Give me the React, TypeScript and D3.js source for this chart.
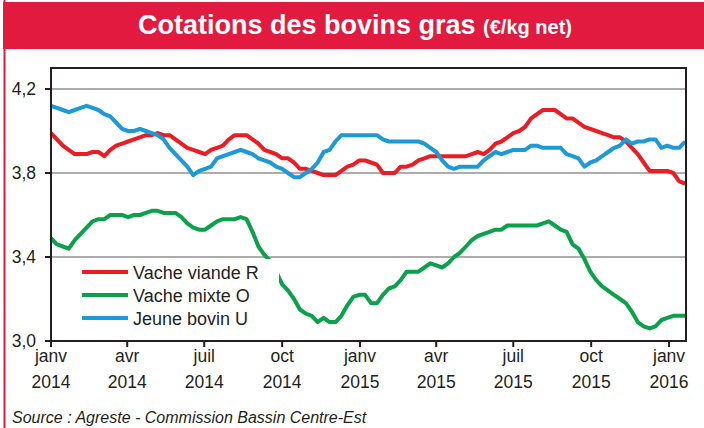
import React, { useEffect, useRef } from "react";
import * as d3 from "d3";

// weekly quotations, first week of Jan 2014 to mid Jan 2016 (€/kg net)
const startDate = new Date(2014, 0, 1);
const endDate = new Date(2016, 0, 21);

const vacheViandeR = [
  3.99, 3.96, 3.93, 3.91, 3.89, 3.89, 3.89, 3.90, 3.90, 3.88,
  3.91, 3.93, 3.94, 3.95, 3.96, 3.97, 3.98, 3.98, 3.99, 3.98,
  3.98, 3.96, 3.94, 3.92, 3.91, 3.90, 3.89, 3.91, 3.92, 3.93,
  3.96, 3.98, 3.98, 3.98, 3.96, 3.94, 3.91, 3.90, 3.89, 3.87,
  3.87, 3.85, 3.82, 3.82, 3.81, 3.80, 3.79, 3.79, 3.79, 3.81,
  3.83, 3.84, 3.86, 3.86, 3.85, 3.84, 3.80, 3.80, 3.80, 3.83,
  3.83, 3.84, 3.86, 3.87, 3.88, 3.88, 3.88, 3.88, 3.88, 3.88,
  3.88, 3.89, 3.90, 3.89, 3.91, 3.94, 3.95, 3.97, 3.99, 4.00,
  4.02, 4.06, 4.08, 4.10, 4.10, 4.10, 4.08, 4.06, 4.06, 4.04,
  4.02, 4.01, 4.00, 3.99, 3.98, 3.97, 3.97, 3.95, 3.92, 3.89,
  3.85, 3.81, 3.81, 3.81, 3.81, 3.80, 3.76, 3.75,
];

const vacheMixteO = [
  3.49, 3.46, 3.45, 3.44, 3.48, 3.51, 3.54, 3.57, 3.58, 3.58,
  3.60, 3.60, 3.60, 3.59, 3.60, 3.60, 3.61, 3.62, 3.62, 3.61,
  3.61, 3.61, 3.59, 3.56, 3.54, 3.53, 3.53, 3.55, 3.57, 3.58,
  3.58, 3.58, 3.59, 3.58, 3.52, 3.45, 3.41, 3.38, 3.33, 3.27,
  3.24, 3.20, 3.15, 3.13, 3.12, 3.09, 3.11, 3.09, 3.09, 3.12,
  3.17, 3.21, 3.22, 3.22, 3.18, 3.18, 3.22, 3.25, 3.26, 3.29,
  3.33, 3.33, 3.33, 3.35, 3.37, 3.36, 3.35, 3.37, 3.40, 3.42,
  3.45, 3.48, 3.50, 3.51, 3.52, 3.53, 3.53, 3.55, 3.55, 3.55,
  3.55, 3.55, 3.55, 3.56, 3.57, 3.55, 3.53, 3.52, 3.46, 3.44,
  3.39, 3.33, 3.29, 3.26, 3.24, 3.22, 3.20, 3.18, 3.14, 3.09,
  3.07, 3.06, 3.07, 3.10, 3.11, 3.12, 3.12, 3.12,
];

const jeuneBovinU = [
  4.12, 4.11, 4.10, 4.09, 4.10, 4.11, 4.12, 4.11, 4.10, 4.08,
  4.07, 4.04, 4.01, 4.00, 4.00, 4.01, 4.00, 3.99, 3.98, 3.96,
  3.92, 3.89, 3.86, 3.83, 3.79, 3.81, 3.82, 3.83, 3.87, 3.88,
  3.89, 3.90, 3.91, 3.90, 3.89, 3.87, 3.86, 3.85, 3.83, 3.82,
  3.80, 3.78, 3.78, 3.80, 3.82, 3.85, 3.90, 3.91, 3.95, 3.98,
  3.98, 3.98, 3.98, 3.98, 3.98, 3.98, 3.96, 3.95, 3.95, 3.95,
  3.95, 3.95, 3.95, 3.94, 3.92, 3.90, 3.86, 3.83, 3.82, 3.83,
  3.83, 3.83, 3.83, 3.86, 3.88, 3.90, 3.89, 3.90, 3.91, 3.91,
  3.91, 3.93, 3.93, 3.92, 3.92, 3.92, 3.92, 3.89, 3.88, 3.87,
  3.83, 3.85, 3.86, 3.88, 3.90, 3.92, 3.93, 3.96, 3.94, 3.95,
  3.95, 3.96, 3.96, 3.92, 3.93, 3.92, 3.92, 3.95,
];

const seriesNames = ["Vache viande R", "Vache mixte O", "Jeune bovin U"];
const seriesColors = ["#ED1C24", "#0BA14B", "#1B9AD7"];

const monthLabels = ["janv", "avr", "juil", "oct", "janv", "avr", "juil", "oct", "janv"];
const yearLabels = ["2014", "2014", "2014", "2014", "2015", "2015", "2015", "2015", "2016"];
const yTicks = [3.0, 3.4, 3.8, 4.2];

const title = "Cotations des bovins gras";
const unit = "(€/kg net)";
const source = "Source : Agreste - Commission Bassin Centre-Est";

const FONT = "'Liberation Sans', Arial, Helvetica, sans-serif";
const RED = "#E31A3F";
const INK = "#231F20";

const W = 704;
const H = 428;
const M = { left: 51, right: 686, top: 68, bottom: 341 };

const Chart = () => {
  const ref = useRef<SVGSVGElement | null>(null);

  useEffect(() => {
    if (!ref.current) return;
    const svg = d3.select(ref.current);
    svg.selectAll("*").remove();

    const x = d3.scaleTime().domain([startDate, endDate]).range([M.left, M.right]);
    const y = d3.scaleLinear().domain([3.0, 4.3]).range([M.bottom, M.top]);
    const weekDate = (i: number) => d3.timeDay.offset(startDate, i * 7);
    const tickDates = d3.timeMonth.every(3)!.range(startDate, d3.timeDay.offset(endDate, -10));

    svg.append("rect").attr("width", W).attr("height", H).attr("fill", "#fff");

    // grid
    svg
      .append("g")
      .selectAll("line")
      .data(yTicks.slice(1))
      .join("line")
      .attr("x1", M.left)
      .attr("x2", M.right)
      .attr("y1", (d) => y(d))
      .attr("y2", (d) => y(d))
      .attr("stroke", "#ADADAD")
      .attr("stroke-width", 2);

    // series
    const line = d3
      .line<number>()
      .x((_, i) => x(weekDate(i)))
      .y((d) => y(d));

    [vacheViandeR, vacheMixteO, jeuneBovinU].forEach((values, k) => {
      svg
        .append("path")
        .datum(values)
        .attr("fill", "none")
        .attr("stroke", seriesColors[k])
        .attr("stroke-width", 4)
        .attr("stroke-linejoin", "round")
        .attr("d", line);
    });

    // legend (white box hides part of the green line)
    svg
      .append("rect")
      .attr("x", M.left + 2)
      .attr("y", y(3.4) + 2)
      .attr("width", 226)
      .attr("height", 72)
      .attr("fill", "#fff");

    const legend = svg.append("g").attr("transform", `translate(82, ${y(3.4) + 15})`);
    seriesNames.forEach((name, k) => {
      const g = legend.append("g").attr("transform", `translate(0, ${k * 23})`);
      g.append("line")
        .attr("x1", 0)
        .attr("x2", 46)
        .attr("stroke", seriesColors[k])
        .attr("stroke-width", 4);
      g.append("text")
        .attr("x", 51)
        .attr("y", 6.5)
        .attr("font-family", FONT)
        .attr("font-size", 18)
        .attr("fill", INK)
        .text(name);
    });

    // frame
    svg
      .append("rect")
      .attr("x", M.left)
      .attr("y", M.top)
      .attr("width", M.right - M.left)
      .attr("height", M.bottom - M.top)
      .attr("fill", "none")
      .attr("stroke", INK)
      .attr("stroke-width", 2);

    // y axis
    const yAxis = svg.append("g");
    yAxis
      .selectAll("line")
      .data(yTicks)
      .join("line")
      .attr("x1", M.left - 6)
      .attr("x2", M.left)
      .attr("y1", (d) => y(d))
      .attr("y2", (d) => y(d))
      .attr("stroke", INK)
      .attr("stroke-width", 2);
    yAxis
      .selectAll("text")
      .data(yTicks)
      .join("text")
      .attr("x", 36)
      .attr("y", (d) => y(d) + 6)
      .attr("text-anchor", "end")
      .attr("font-family", FONT)
      .attr("font-size", 17.5)
      .attr("fill", INK)
      .text((d) => d.toFixed(1).replace(".", ","));

    // x axis
    const xAxis = svg.append("g");
    xAxis
      .selectAll("line")
      .data(tickDates)
      .join("line")
      .attr("x1", (d) => x(d))
      .attr("x2", (d) => x(d))
      .attr("y1", M.bottom)
      .attr("y2", M.bottom + 6)
      .attr("stroke", INK)
      .attr("stroke-width", 2);
    xAxis
      .selectAll("text.m")
      .data(tickDates)
      .join("text")
      .attr("class", "m")
      .attr("x", (d) => x(d))
      .attr("y", 362)
      .attr("text-anchor", "middle")
      .attr("font-family", FONT)
      .attr("font-size", 17.5)
      .attr("fill", INK)
      .text((_, i) => monthLabels[i]);
    xAxis
      .selectAll("text.y")
      .data(tickDates)
      .join("text")
      .attr("class", "y")
      .attr("x", (d) => x(d))
      .attr("y", 388)
      .attr("text-anchor", "middle")
      .attr("font-family", FONT)
      .attr("font-size", 17.5)
      .attr("fill", INK)
      .text((_, i) => yearLabels[i]);

    // title bar and left rule
    svg.append("rect").attr("x", 3).attr("y", 2).attr("width", W - 3).attr("height", 47).attr("fill", RED);
    svg.append("rect").attr("x", 3.5).attr("y", 0).attr("width", 2).attr("height", H).attr("fill", RED);

    const t = svg
      .append("text")
      .attr("x", 355)
      .attr("y", 34)
      .attr("text-anchor", "middle")
      .attr("font-family", FONT)
      .attr("font-weight", "bold")
      .attr("fill", "#fff");
    t.append("tspan").attr("font-size", 27).text(title + " ");
    t.append("tspan").attr("font-size", 20).text(unit);

    svg
      .append("text")
      .attr("x", 12)
      .attr("y", 423)
      .attr("font-family", FONT)
      .attr("font-style", "italic")
      .attr("font-size", 16)
      .attr("fill", INK)
      .text(source);
  }, []);

  return (
    <svg
      ref={ref}
      width={W}
      height={H}
      style={{ position: "absolute", left: 0, top: 0, display: "block" }}
    />
  );
};

export default function App() {
  return <Chart />;
}
